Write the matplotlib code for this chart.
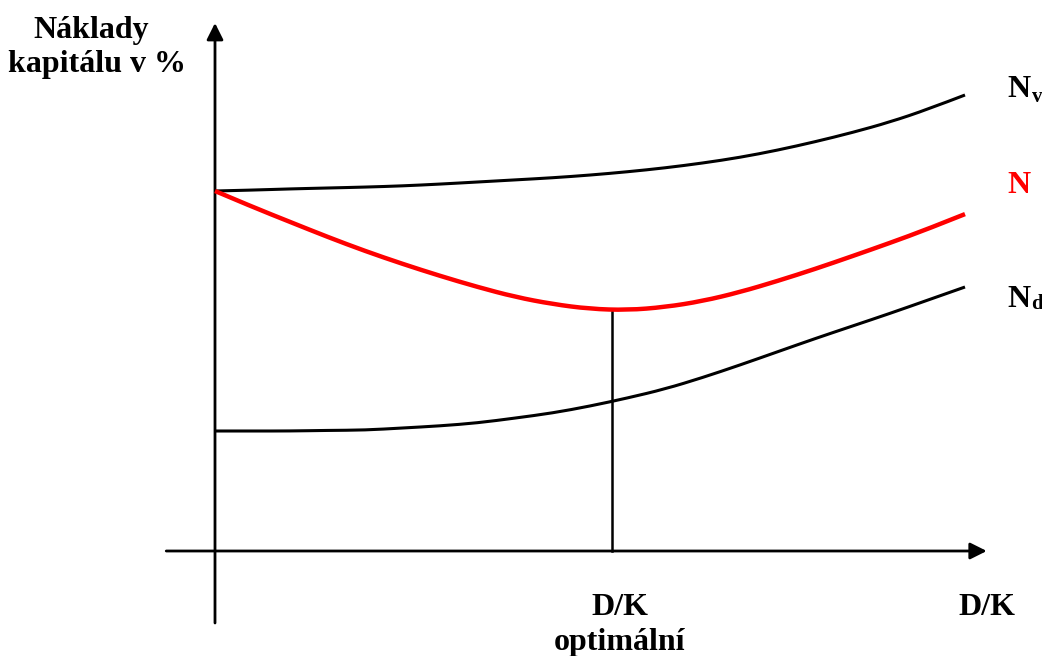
import matplotlib
matplotlib.use("Agg")
import matplotlib.pyplot as plt
from matplotlib.path import Path
from matplotlib.patches import PathPatch

# ---- data ----
dk = [0, 0.5, 1, 1.5, 2, 2.5, 3, 3.5, 4, 4.5, 5, 5.5, 6, 6.5, 7, 7.5, 8, 8.5, 9, 9.5, 10]
n_v = [12.00, 12.03, 12.07, 12.10, 12.13, 12.17, 12.23, 12.30, 12.37, 12.44, 12.53,
       12.64, 12.77, 12.93, 13.12, 13.36, 13.64, 13.95, 14.30, 14.72, 15.20]
n_wacc = [12.00, 11.47, 10.97, 10.47, 10.00, 9.57, 9.17, 8.80, 8.47, 8.23, 8.07,
          8.03, 8.13, 8.33, 8.63, 9.00, 9.40, 9.83, 10.27, 10.73, 11.23]
n_d = [4.00, 4.00, 4.00, 4.02, 4.03, 4.10, 4.17, 4.27, 4.43, 4.60, 4.83,
       5.10, 5.40, 5.78, 6.20, 6.64, 7.08, 7.50, 7.92, 8.36, 8.80]
dk_opt = 5.29
n_opt = 8.03

y_title = ["Náklady", "kapitálu v %"]
x_label = "D/K"
opt_label = ["D/K", "optimální"]


def smooth_path(xs, ys):
    """Quadratic Bezier path: interior points are control points, midpoints are on-curve."""
    pts = list(zip(xs, ys))
    verts = [pts[0]]
    codes = [Path.MOVETO]
    for i in range(1, len(pts) - 1):
        mid = ((pts[i][0] + pts[i + 1][0]) / 2, (pts[i][1] + pts[i + 1][1]) / 2)
        if i == len(pts) - 2:
            mid = pts[i + 1]
        verts += [pts[i], mid]
        codes += [Path.CURVE3, Path.CURVE3]
    return Path(verts, codes)


# ---- figure ----
fig = plt.figure(figsize=(10.42, 6.56), dpi=100)
ax = fig.add_axes([0, 0, 1, 1])
ax.set_xlim(-215 / 75, (1042 - 215) / 75)
ax.set_ylim((551 - 656) / 30, 551 / 30)
ax.axis("off")

font = dict(family="Liberation Serif", weight="bold")

# axes with arrows
arrow = dict(arrowstyle="-|>,head_length=0.4,head_width=0.2", lw=2.0, color="black",
             mutation_scale=25, shrinkA=0, shrinkB=0)
ax.annotate("", xy=(10.29, 0), xytext=(-0.65, 0), arrowprops=arrow)
ax.annotate("", xy=(0, 17.6), xytext=(0, -2.4), arrowprops=arrow)

# curves
ax.add_patch(PathPatch(smooth_path(dk, n_v), fill=False, edgecolor="black", lw=2.2,
                       capstyle="butt"))
ax.add_patch(PathPatch(smooth_path(dk, n_d), fill=False, edgecolor="black", lw=2.2,
                       capstyle="butt"))
ax.add_patch(PathPatch(smooth_path(dk, n_wacc), fill=False, edgecolor="#ff0000", lw=3.2,
                       capstyle="butt", zorder=3))
ax.plot([dk_opt, dk_opt], [0, n_opt], color="black", lw=1.8)

# labels
ax.text(-1.65, 17.1, y_title[0], ha="center", va="baseline", fontsize=23, **font)
ax.text(-1.57, 15.97, y_title[1], ha="center", va="baseline", fontsize=23, **font)

ax.text(10.57, 15.13, "N", ha="left", va="baseline", fontsize=23, **font)
ax.text(10.89, 14.97, "v", ha="left", va="baseline", fontsize=15, **font)
ax.text(10.57, 11.93, "N", ha="left", va="baseline", fontsize=23, color="#ff0000", **font)
ax.text(10.57, 8.13, "N", ha="left", va="baseline", fontsize=23, **font)
ax.text(10.88, 8.07, "d", ha="left", va="baseline", fontsize=15, **font)

ax.text(5.4, -2.13, opt_label[0], ha="center", va="baseline", fontsize=23, **font)
ax.text(5.4, -3.3, opt_label[1], ha="center", va="baseline", fontsize=23, **font)
ax.text(10.29, -2.13, x_label, ha="center", va="baseline", fontsize=23, **font)

fig.savefig("out.png", dpi=100)
